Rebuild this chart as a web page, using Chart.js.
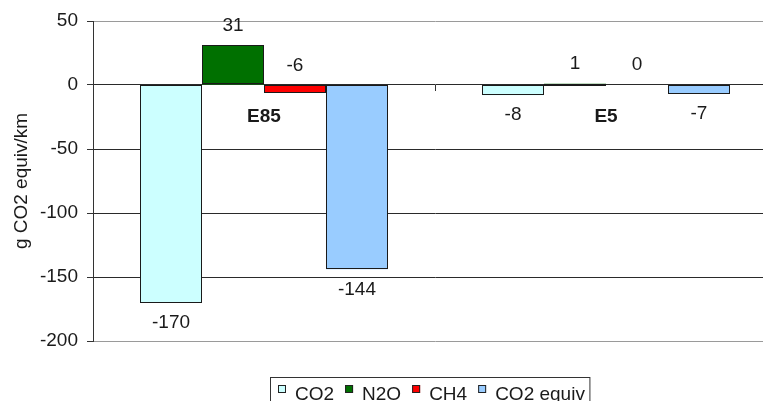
<!DOCTYPE html>
<html>
<head>
<meta charset="utf-8">
<title>Emissions by fuel</title>
<script src="https://cdn.jsdelivr.net/npm/chart.js@4.4.1/dist/chart.umd.min.js"></script>
<style>
  html, body { margin: 0; padding: 0; background: #fff; overflow: hidden; }
  #wrap { width: 800px; height: 420px; }
</style>
</head>
<body>
<div id="wrap"><canvas id="chart"></canvas></div>
<script>
// Fuels on the category axis
const categories = ['E85', 'E5'];

// Emission changes per gas, g CO2 equiv/km
const co2Values = [-170, -8];
const n2oValues = [31, 1];
const ch4Values = [-6, 0];
const co2EquivValues = [-144, -7];

const seriesNames = ['CO2', 'N2O', 'CH4', 'CO2 equiv'];

// Value axis
const yMin = -200;
const yMax = 50;
const yStep = 50;
const yTitle = 'g CO2 equiv/km';

const FONT = '"Liberation Sans", Arial, sans-serif';
const TEXT = '#1a1a1a';

// Crisp dark outline round every bar, also visible on very short bars
const barOutlines = {
  id: 'barOutlines',
  afterDatasetsDraw(chart) {
    const ctx = chart.ctx;
    ctx.save();
    ctx.strokeStyle = '#1a1a1a';
    ctx.lineWidth = 1;
    chart.data.datasets.forEach((ds, di) => {
      chart.getDatasetMeta(di).data.forEach((bar) => {
        if (Math.abs(bar.base - bar.y) < 0.5) return; // zero-height bar: nothing to outline
        const l = Math.round(bar.x - bar.width / 2) + 0.5;
        const r = Math.round(bar.x + bar.width / 2) - 0.5;
        const t = Math.round(Math.min(bar.y, bar.base)) + 0.5;
        const b = Math.round(Math.max(bar.y, bar.base)) - 0.5;
        ctx.strokeRect(l, t, r - l, Math.max(b - t, 1));
      });
    });
    ctx.restore();
  }
};

// Value labels: above the bar top or below the bar end
const valueLabels = {
  id: 'valueLabels',
  afterDatasetsDraw(chart) {
    const ctx = chart.ctx;
    ctx.save();
    ctx.font = '19px ' + FONT;
    ctx.fillStyle = TEXT;
    ctx.textAlign = 'center';
    ctx.textBaseline = 'middle';
    chart.data.datasets.forEach((ds, di) => {
      const meta = chart.getDatasetMeta(di);
      meta.data.forEach((bar, i) => {
        const v = ds.data[i];
        const top = Math.min(bar.y, bar.base);
        const bottom = Math.max(bar.y, bar.base);
        const y = ds.labelAbove ? top - 20 : bottom + 20;
        ctx.fillText(String(v), bar.x, y);
      });
    });
    ctx.restore();
  }
};

// Boxed legend row under the plot
const boxedLegend = {
  id: 'boxedLegend',
  afterDraw(chart) {
    const ctx = chart.ctx;
    ctx.save();
    ctx.font = '19px ' + FONT;
    ctx.textBaseline = 'alphabetic';
    ctx.textAlign = 'left';
    const boxLeft = 270.5;
    const boxTop = 377.5;
    let x = boxLeft + 7.5;
    chart.data.datasets.forEach((ds) => {
      ctx.fillStyle = ds.backgroundColor;
      ctx.fillRect(x, 385, 8, 8);
      ctx.strokeStyle = '#222';
      ctx.lineWidth = 1;
      ctx.strokeRect(x + 0.5, 385.5, 7, 7);
      ctx.fillStyle = TEXT;
      const tx = x + 17;
      ctx.fillText(ds.label, tx, 400);
      x = tx + ctx.measureText(ds.label).width + 11;
    });
    const boxRight = x - 6;
    ctx.strokeStyle = '#333';
    ctx.lineWidth = 1;
    ctx.strokeRect(boxLeft, boxTop, boxRight - boxLeft, 40);
    ctx.restore();
  }
};

const colors = ['#CCFFFF', '#007000', '#FF0000', '#99CCFF'];
const seriesData = [co2Values, n2oValues, ch4Values, co2EquivValues];
const aboveFlags = [false, true, true, false];

new Chart(document.getElementById('chart'), {
  type: 'bar',
  data: {
    labels: categories,
    datasets: seriesNames.map((name, k) => ({
      label: name,
      data: seriesData[k],
      backgroundColor: colors[k],
      borderWidth: 0,
      categoryPercentage: 0.725,
      barPercentage: 1.0,
      labelAbove: aboveFlags[k]
    }))
  },
  options: {
    responsive: true,
    maintainAspectRatio: false,
    animation: false,
    devicePixelRatio: 1,
    layout: { padding: { left: 0, right: 23, top: 21, bottom: 79 } },
    plugins: {
      legend: { display: false },
      tooltip: { enabled: false }
    },
    scales: {
      x: {
        type: 'category',
        position: { y: 0 },
        grid: {
          offset: true,
          drawOnChartArea: false,
          drawTicks: true,
          tickLength: 6,
          tickColor: '#333'
        },
        border: { display: false },
        ticks: {
          font: { family: FONT, size: 19, weight: 'bold' },
          color: TEXT,
          padding: 14
        }
      },
      y: {
        min: yMin,
        max: yMax,
        ticks: {
          stepSize: yStep,
          font: { family: FONT, size: 19 },
          color: TEXT,
          padding: 9
        },
        grid: {
          color: (c) => (c.tick && (c.tick.value === yMax || c.tick.value === yMin)) ? '#9a9a9a' : '#2a2a2a',
          tickColor: '#333',
          tickLength: 6
        },
        border: { color: '#333' },
        title: {
          display: true,
          text: yTitle,
          font: { family: FONT, size: 19 },
          color: TEXT,
          padding: { top: 10, bottom: 0 }
        },
        afterFit(scale) { scale.width = 93; }
      }
    }
  },
  plugins: [barOutlines, valueLabels, boxedLegend]
});
</script>
</body>
</html>
